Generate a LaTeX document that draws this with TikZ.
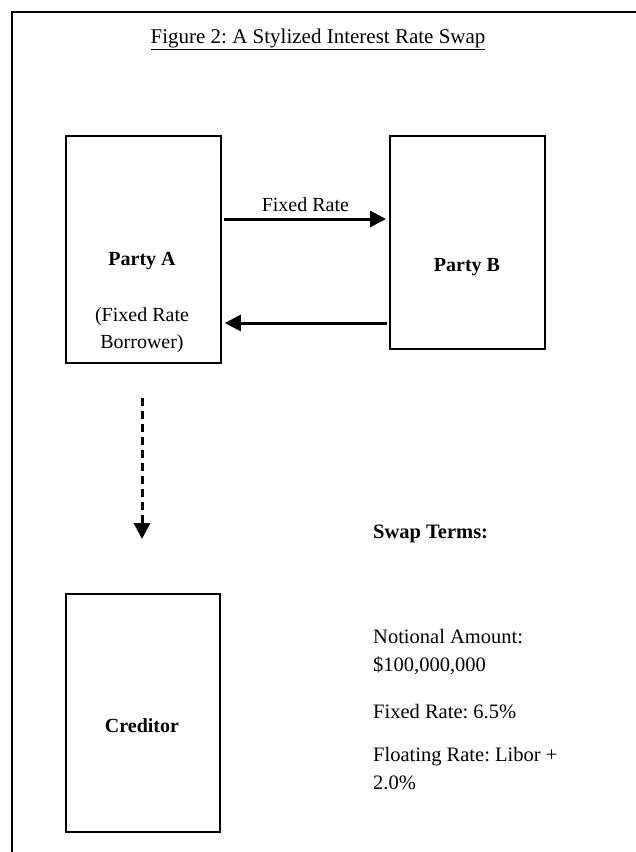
\documentclass[tikz,border=0pt]{standalone}
\usepackage{fontspec}
\setmainfont{Liberation Serif}
\usetikzlibrary{arrows.meta}
\frenchspacing
\begin{document}
\begin{tikzpicture}[x=1pt,y=-1pt,
  box/.style={draw,line width=1.8pt,inner sep=0pt,anchor=north west},
  txt/.style={inner sep=0pt,font=\fontsize{20}{27}\selectfont,align=center},
  btxt/.style={inner sep=0pt,font=\fontsize{20}{27}\selectfont\bfseries},
  lbl/.style={inner sep=0pt,font=\fontsize{20.5}{28}\selectfont,anchor=base west,align=left},
  arr/.style={line width=3pt,-{Triangle[length=16pt,width=16pt]}},
  darr/.style={line width=3pt,dash pattern=on 8pt off 5pt,-{Triangle[length=16pt,width=16pt]}}]
\useasboundingbox (0,0) rectangle (636,852);
\fill[white] (0,0) rectangle (636,852);
% frame
\draw[line width=2.2pt] (12,852) -- (12,12) -- (636,12);
% title
\node[inner sep=0pt,anchor=base,font=\fontsize{21}{26}\selectfont] (title) at (318,43)
  {\underline{Figure 2: A Stylized Interest Rate Swap}};
% boxes
\node[box,minimum width=155pt,minimum height=227pt] (A) at (65,135) {};
\node[box,minimum width=155pt,minimum height=213pt] (B) at (389,135) {};
\node[box,minimum width=154pt,minimum height=238pt] (C) at (65,593) {};
% box texts
\node[btxt] (At) at (142,261) {Party A};
\node[txt] (As) at (142,330) {(Fixed Rate\\Borrower)};
\node[btxt] (Bt) at (467,267) {Party B};
\node[btxt] (Ct) at (142,726) {Creditor};
% arrows
\coordinate (r1) at (0,219);
\coordinate (r2) at (0,323);
\draw[arr,shorten <=2pt,shorten >=3pt] (A.east |- r1) -- node[above=6pt,inner sep=0pt,font=\fontsize{20}{24}\selectfont] (fr) {Fixed Rate} (B.west |- r1);
\draw[arr,shorten <=2pt,shorten >=3pt] (B.west |- r2) -- (A.east |- r2);
\coordinate (d1) at (142,398);
\coordinate (d2) at (142,539);
\draw[darr] (d1) -- (d2);
% swap terms
\node[lbl,font=\fontsize{20.5}{28}\selectfont\bfseries] (st) at (373,538) {Swap Terms:};
\node[lbl,anchor=north west] (na) at (373,629) {Notional Amount:\\\$100,000,000};
\node[lbl] (fx) at (373,718) {Fixed Rate: 6.5\%};
\node[lbl,anchor=north west] (fl) at (373,747) {Floating Rate: Libor +\\2.0\%};
\end{tikzpicture}
\end{document}
